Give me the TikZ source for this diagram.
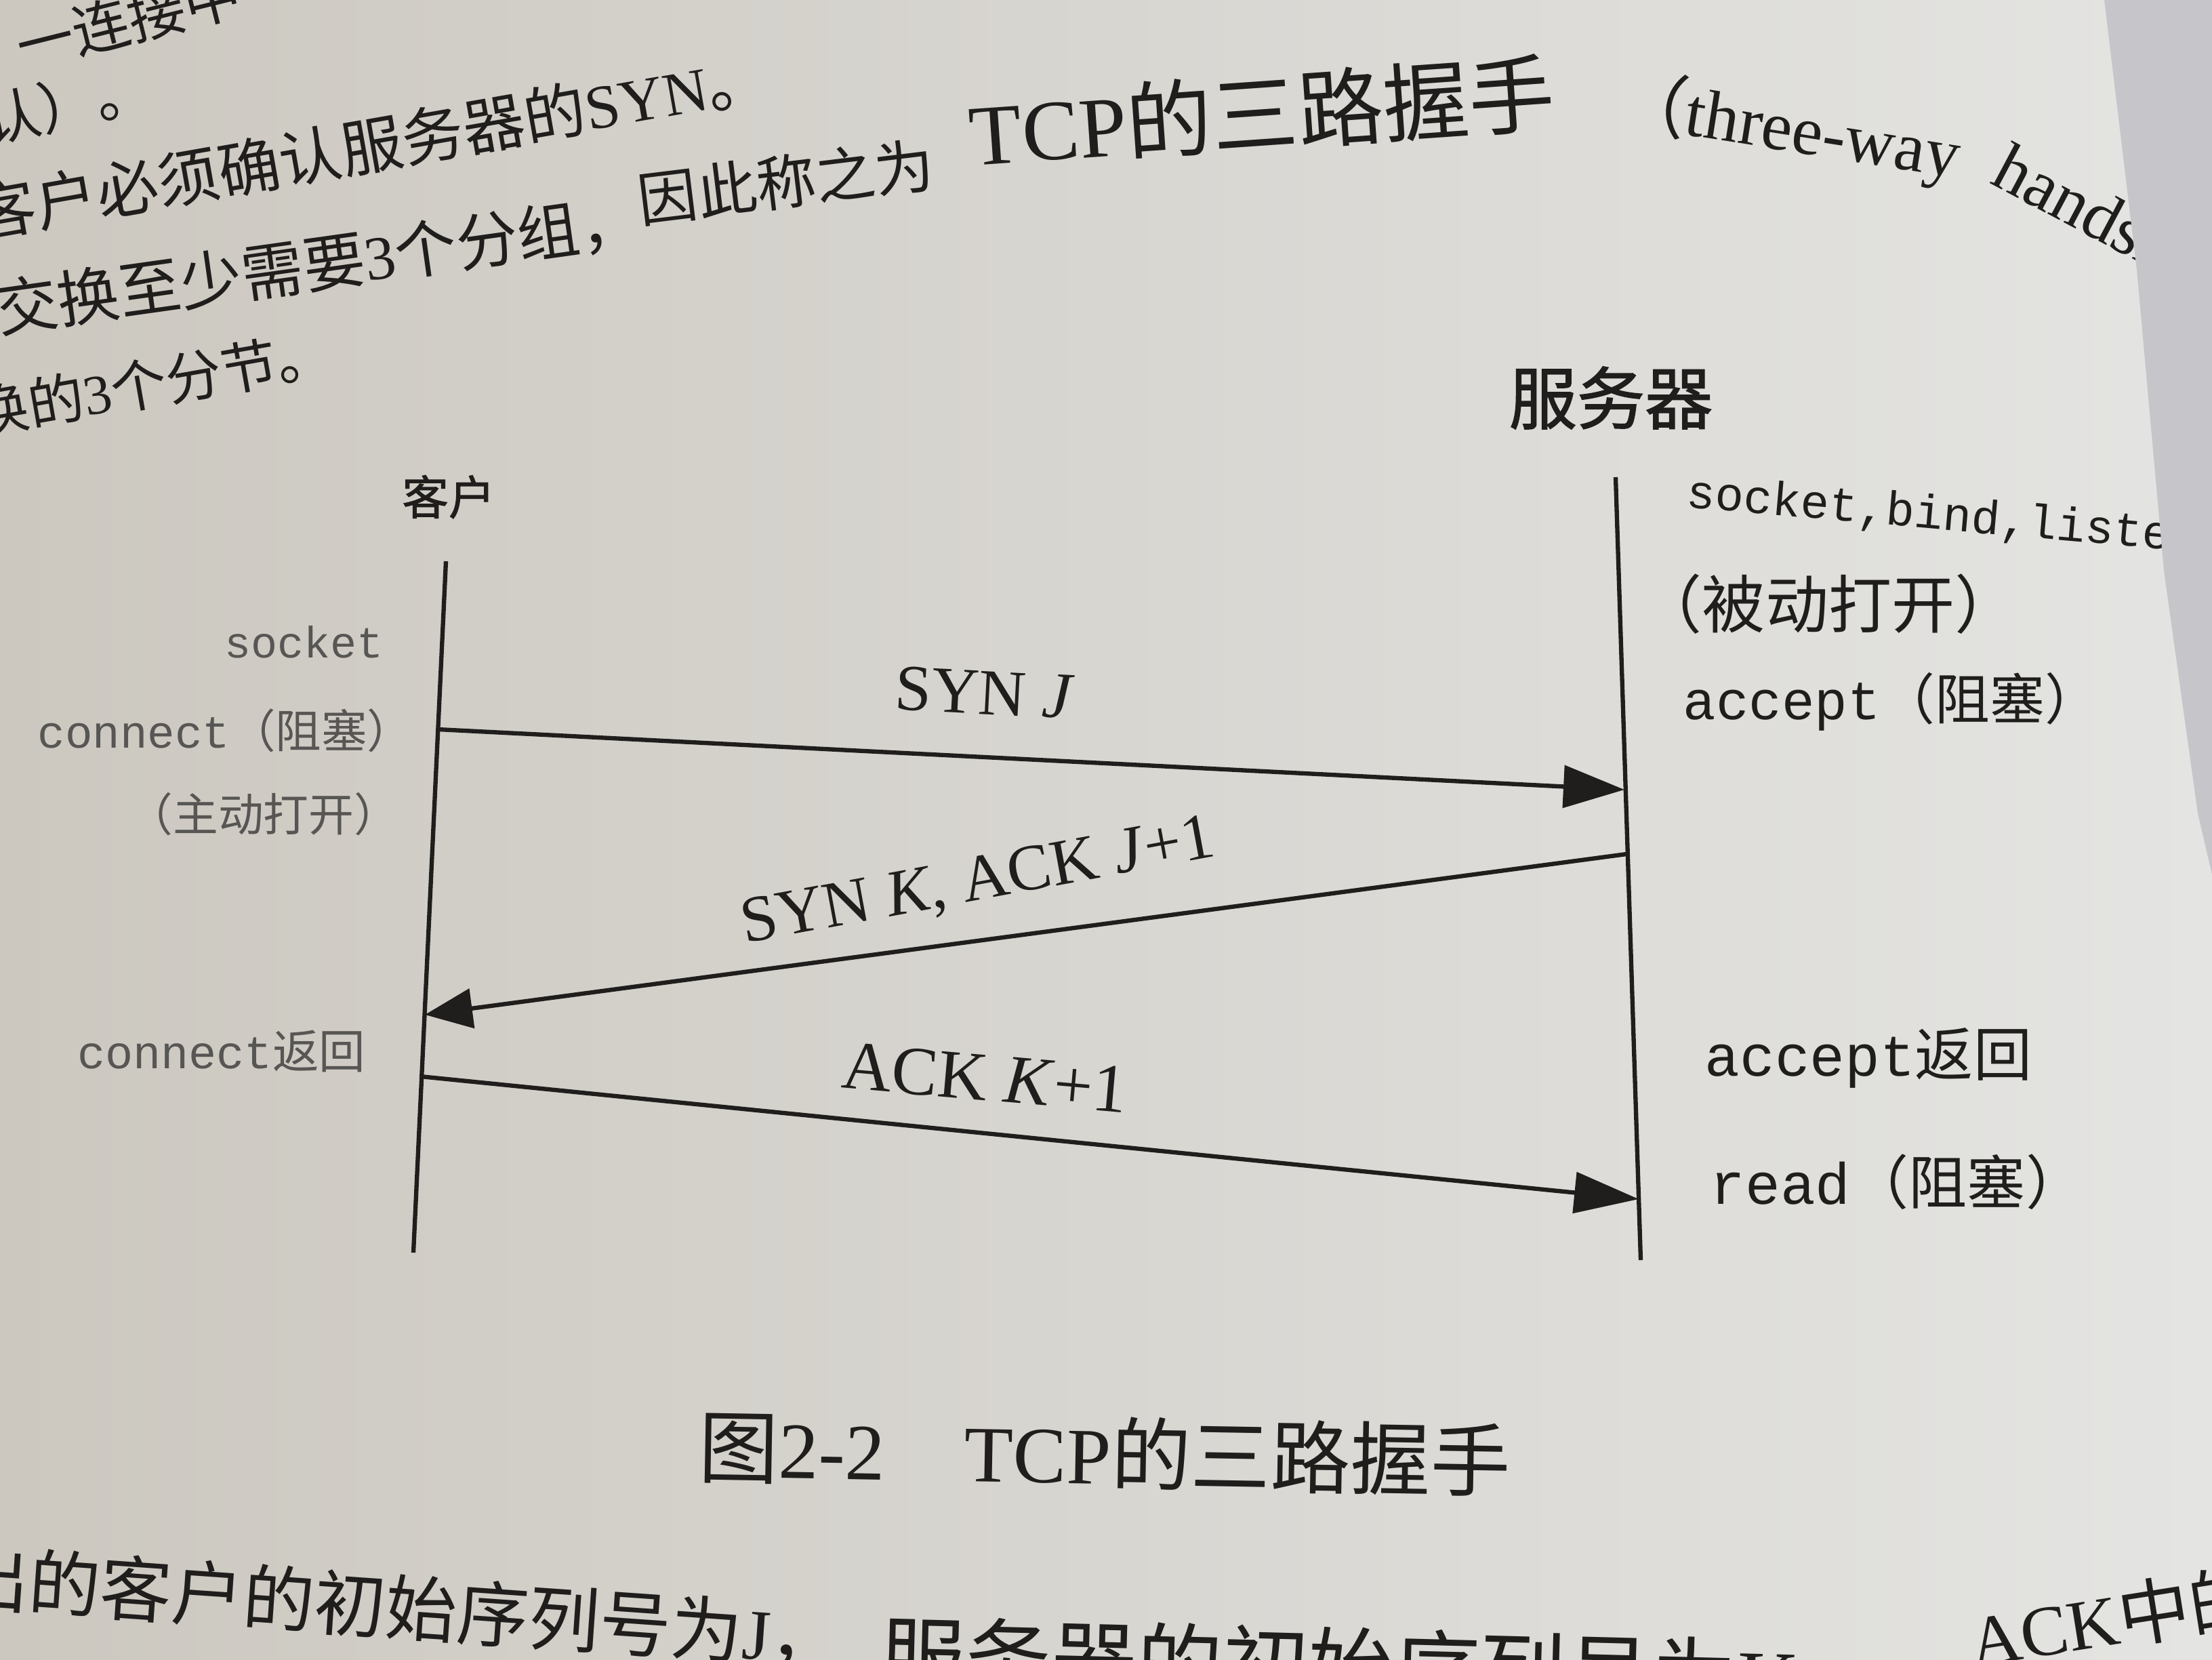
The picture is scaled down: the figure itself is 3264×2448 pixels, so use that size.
\documentclass[tikz,border=0pt]{standalone}
\usepackage{fontspec}
\setmainfont{Liberation Serif}
\newfontfamily\cjk{Noto Sans CJK SC}
\newfontfamily\cjkb[FakeBold=1.5]{Noto Sans CJK SC}
\newfontfamily\mono{Liberation Mono}
\usetikzlibrary{arrows.meta}
\newcommand\myfs[1]{\fontsize{#1}{#1}\selectfont}
\definecolor{paperL}{RGB}{204,200,192}
\definecolor{paperR}{RGB}{228,228,226}
\definecolor{edgegray}{RGB}{198,198,202}
\definecolor{ink}{RGB}{32,30,28}
\definecolor{greyink}{RGB}{88,86,84}
\begin{document}
\begin{tikzpicture}[x=0.01cm,y=-0.01cm,
  lane/.style={line width=1.8pt, draw=ink},
  msg/.style={line width=1.8pt, draw=ink, fill=ink},
  lbl/.style={inner sep=0pt, text=ink},
  llbl/.style={inner sep=0pt, text=greyink, anchor=east},
  rlbl/.style={inner sep=0pt, text=ink, anchor=west},
  body/.style={inner sep=0pt, text=ink}]
\useasboundingbox (0,0) rectangle (3264,2448);
\begin{scope}
\clip (0,0) rectangle (3264,2448);
\shade[left color=paperL, right color=paperR] (0,0) rectangle (3264,2448);

% surrounding book text
\node[body, font=\cjk\myfs{24}, anchor=west, rotate=14] (t0) at (25,70) {一连接中};
\node[body, font=\cjk\myfs{24}, anchor=west, rotate=12] (t1) at (-25,180) {认）。};
\node[body, font=\cjk\myfs{26}, rotate=10] (t2) at (548,214) {客户必须确认服务器的\rmfamily SYN\cjk 。};
\node[body, font=\cjk\myfs{26}, rotate=8] (t3a) at (470,390) {交换至少需要\rmfamily 3\cjk 个分组，};
\node[body, font=\cjk\myfs{25}, rotate=7] (t3b) at (1160,268) {因此称之为};
\node[body, font=\cjk\myfs{36}, rotate=4] (t3c) at (1862,166) {\rmfamily TCP\cjk 的三路握手};
\node[body, font=\rmfamily\myfs{29}, rotate=-9] (t3d) at (2640,190) {{\cjk（}three-way};
\node[body, font=\rmfamily\myfs{29}, anchor=west, rotate=-28] (t3e) at (2950,238) {handshake};
\node[body, font=\cjk\myfs{23.5}, rotate=10] (t4) at (225,565) {换的\rmfamily 3\cjk 个分节。};

% lifelines
\coordinate (cT) at (658,828);
\coordinate (cB) at (610,1848);
\coordinate (sT) at (2384,704);
\coordinate (sB) at (2421,1859);
\draw[lane] (cT) -- (cB);
\draw[lane] (sT) -- (sB);

\node[lbl, font=\cjkb\myfs{19.5}] (client) at (662,733) {客户};
\node[lbl, font=\cjkb\myfs{28.5}] (server) at (2377,587) {服务器};

% messages
\coordinate (c1) at (646,1076);
\coordinate (s1) at (2397,1165);
\coordinate (s2) at (2400,1260);
\coordinate (c2) at (627,1497);
\coordinate (c3) at (620,1588);
\coordinate (s3) at (2418,1769);
\draw[msg, -{Triangle[length=0.9cm,width=0.62cm]}] (c1) -- (s1);
\draw[msg, -{Triangle[length=0.7cm,width=0.58cm]}] (s2) -- (c2);
\draw[msg, -{Triangle[length=0.95cm,width=0.6cm]}] (c3) -- (s3);

\node[lbl, font=\rmfamily\myfs{27.5}, rotate=-3] (m1) at (1453,1022) {SYN \textit{J}};
\node[lbl, font=\rmfamily\myfs{27.5}, rotate=10.5] (m2) at (1443,1303) {SYN \textit{K}, ACK \textit{J}+1};
\node[lbl, font=\rmfamily\myfs{29}, rotate=-5] (m3) at (1453,1590) {ACK \textit{K}+1};

% client side labels
\node[llbl, font=\mono\myfs{18.5}] (ls) at (566,947) {socket};
\node[llbl, font=\mono\myfs{19.2}] (lc) at (610,1078) {connect\cjk（阻塞）};
\node[llbl, font=\cjk\myfs{19}] (lo) at (590,1201) {（主动打开）};
\node[llbl, font=\mono\myfs{19.5}] (lr) at (540,1551) {connect\cjk 返回};

% server side labels
\node[rlbl, font=\mono\myfs{20}, rotate=-5] (rs) at (2488,729) {socket,bind,listen};
\node[rlbl, font=\cjk\myfs{26.5}] (rp) at (2418,891) {（被动打开）};
\node[rlbl, font=\mono\myfs{23}] (ra) at (2483,1035) {accept\cjk（阻塞）};
\node[rlbl, font=\mono\myfs{24.5}] (rr) at (2515,1561) {accept\cjk 返回};
\node[rlbl, font=\mono\myfs{24.5}] (rd) at (2523,1744) {read\cjk（阻塞）};

% caption
\node[body, font=\cjk\myfs{33.5}, rotate=-1] (cap) at (1630,2144) {图\rmfamily 2-2\hspace{1em}TCP\cjk 的三路握手};

% bottom text
\node[body, font=\cjk\myfs{30}, rotate=-4] (b1) at (590,2372) {出的客户的初始序列号为\rmfamily J\cjk ，};
\node[body, font=\cjk\myfs{36}, rotate=-1.5] (b2) at (2040,2462) {服务器的初始序列号为\rmfamily K\cjk ，};
\node[body, font=\cjk\myfs{30}, anchor=west, rotate=9] (b3) at (2905,2420) {\rmfamily ACK\cjk 中的};

% neighbouring page beyond the edge
\fill[edgegray] (3105,0) -- (3264,0) -- (3264,1290) -- (3243,1200) -- (3193,842) -- (3153,398) -- cycle;
\end{scope}
\end{tikzpicture}
\end{document}
